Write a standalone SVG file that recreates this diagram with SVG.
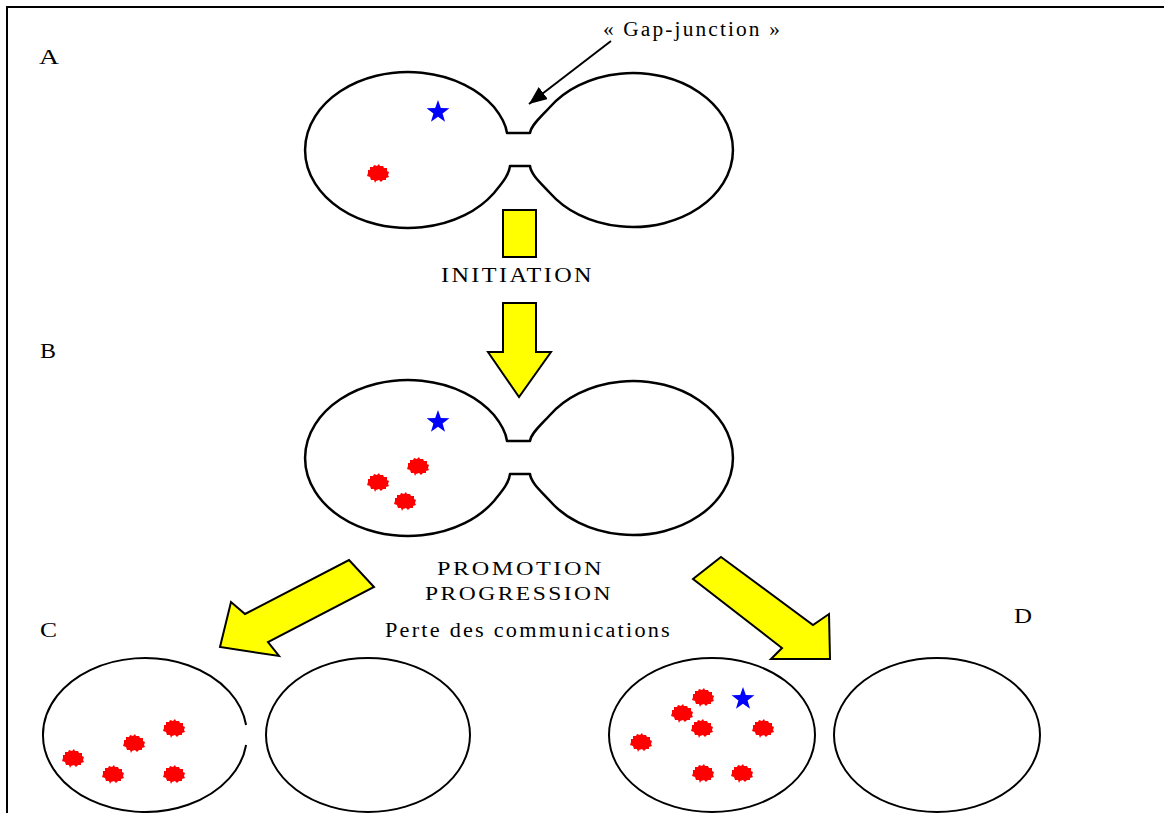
<svg xmlns="http://www.w3.org/2000/svg" xmlns:xlink="http://www.w3.org/1999/xlink" width="1164" height="813" viewBox="0 0 1164 813">
  <style>
    .cell { fill: none; stroke: #000; stroke-width: 2.5; stroke-linejoin: round; }
    .round { fill: none; stroke: #000; stroke-width: 2; }
    .yarrow { fill: #ffff00; stroke: #000; stroke-width: 2; stroke-linejoin: miter; }
    .lbl { font-family: "Liberation Serif", "Times New Roman", serif; font-size: 20px; fill: #000; }
    .wide { letter-spacing: 2px; }
    .blob { fill: #ff0000; }
    .star { fill: #0000ff; }
  </style>
  <defs>
    <path id="blob" d="M -10,-3 L -8,-3 L -8,-6 L -5,-6 L -4,-8 L -1,-7 L 1,-9 L 2,-7 L 5,-7 L 6,-5 L 9,-5 L 9,-2 L 11,-1 L 10,2 L 11,4 L 8,5 L 8,7 L 5,7 L 3,9 L 1,7 L -2,8 L -3,10 L -4,7 L -7,7 L -8,4 L -11,3 L -10,0 Z"/>
    <polygon id="star" points="0,-12 2.82,-3.88 11.41,-3.71 4.57,1.48 7.05,9.71 0,4.8 -7.05,9.71 -4.57,1.48 -11.41,-3.71 -2.82,-3.88"/>
    <path id="pair" d="M 507,133 L 530,133 C 531,125 542,116 550,107 A 100 77 0 1 1 550,193 C 542,184 531,175 530,166 L 510,166 C 509,175 502,183 494,193 A 103 78 0 1 1 494,107 C 502,117 506,125 507,133 Z"/>
    <marker id="head" markerUnits="userSpaceOnUse" viewBox="0 0 18 15" refX="18" refY="7.5" markerWidth="18" markerHeight="15" orient="auto">
      <path d="M0,0 L18,7.5 L0,15 Z" fill="#000"/>
    </marker>
  </defs>

  <rect width="1164" height="813" fill="#fff"/>
  <g id="frame" stroke="#000" stroke-width="2" fill="none">
    <line x1="6" y1="7" x2="1164" y2="7"/>
    <line x1="7" y1="6" x2="7" y2="813"/>
  </g>

  <g id="cellsA">
    <use href="#pair" class="cell"/>
    <use href="#star" class="star" x="438" y="112"/>
    <use href="#blob" class="blob" x="378" y="173"/>
  </g>

  <g id="cellsB">
    <use href="#pair" class="cell" y="308"/>
    <use href="#star" class="star" x="438" y="422"/>
    <use href="#blob" class="blob" x="418" y="466"/>
    <use href="#blob" class="blob" x="378" y="482"/>
    <use href="#blob" class="blob" x="405" y="501"/>
  </g>

  <g id="cellsC">
    <path class="round" d="M 246.1,745 A 102 77 0 1 1 246.1,725"/>
    <ellipse class="round" cx="368" cy="735" rx="102" ry="77"/>
    <use href="#blob" class="blob" x="174" y="728"/>
    <use href="#blob" class="blob" x="134" y="743"/>
    <use href="#blob" class="blob" x="73" y="758"/>
    <use href="#blob" class="blob" x="113" y="774"/>
    <use href="#blob" class="blob" x="174" y="774"/>
  </g>

  <g id="cellsD">
    <ellipse class="round" cx="712" cy="735" rx="103" ry="77"/>
    <ellipse class="round" cx="937" cy="735" rx="103" ry="77"/>
    <use href="#blob" class="blob" x="703" y="697"/>
    <use href="#blob" class="blob" x="682" y="713"/>
    <use href="#blob" class="blob" x="702" y="728"/>
    <use href="#blob" class="blob" x="763" y="728"/>
    <use href="#blob" class="blob" x="641" y="742"/>
    <use href="#blob" class="blob" x="703" y="773"/>
    <use href="#blob" class="blob" x="742" y="773"/>
    <use href="#star" class="star" x="743" y="699"/>
  </g>

  <g id="connectors">
    <line x1="611" y1="41" x2="529" y2="104" stroke="#000" stroke-width="2" marker-end="url(#head)"/>
    <rect class="yarrow" x="503" y="210" width="33" height="47"/>
    <polygon class="yarrow" points="503,303 536,303 536,352 551,352 519,397 488,352 503,352"/>
    <polygon class="yarrow" points="349,560 374,587 268,642 279,656 220,647 231,602 245,614"/>
    <polygon class="yarrow" points="721,557 813,625 829,614 830,659 771,659 782,648 693,579"/>
  </g>

  <g id="labels">
    <text class="lbl" x="39" y="64" textLength="20" lengthAdjust="spacingAndGlyphs">A</text>
    <text class="lbl" x="40" y="358" textLength="16" lengthAdjust="spacingAndGlyphs">B</text>
    <text class="lbl" x="40" y="637" textLength="17" lengthAdjust="spacingAndGlyphs">C</text>
    <text class="lbl" x="1014" y="623" textLength="18" lengthAdjust="spacingAndGlyphs">D</text>
    <text class="lbl wide" x="603" y="36" textLength="179" lengthAdjust="spacingAndGlyphs">« Gap-junction »</text>
    <text class="lbl wide" x="441" y="282" textLength="153" lengthAdjust="spacingAndGlyphs">INITIATION</text>
    <text class="lbl wide" x="437" y="575" textLength="167" lengthAdjust="spacingAndGlyphs" style="font-size:19px">PROMOTION</text>
    <text class="lbl wide" x="425" y="600" textLength="188" lengthAdjust="spacingAndGlyphs" style="font-size:19px">PROGRESSION</text>
    <text class="lbl wide" x="385" y="637" textLength="287" lengthAdjust="spacingAndGlyphs">Perte des communications</text>
  </g>
</svg>
